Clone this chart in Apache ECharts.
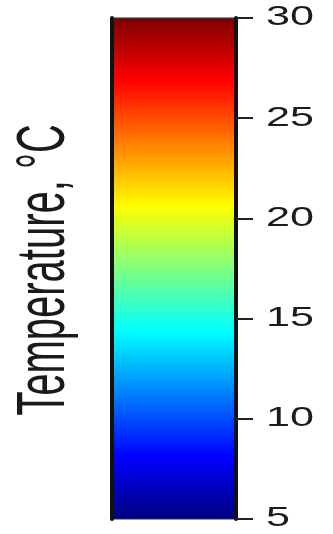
<!DOCTYPE html>
<html><head><meta charset="utf-8">
<script src="https://cdn.jsdelivr.net/npm/echarts@6/dist/echarts.min.js"></script>
<style>html,body{margin:0;padding:0;background:#fff}#c{width:333px;height:534px}</style>
</head><body><div id="c"></div>
<script>
// ---- data ----
const barCategories = ['colorbar'];
const rangeMin = 5;
const rangeMax = 30;
const tickStep = 5;
const tickValues = [5, 10, 15, 20, 25, 30];
const tickLabels = ['5', '10', '15', '20', '25', '30'];
const colorStopOffsets = [0, 0.125, 0.375, 0.625, 0.875, 1];
const colorStopColors = ['#00007f', '#0000ff', '#00ffff', '#ffff00', '#ff0000', '#7f0000'];
const axisTitle = 'Temperature, °C';

const chart = echarts.init(document.getElementById('c'), null, {renderer: 'canvas'});
const stops = colorStopOffsets.map((o, i) => ({offset: o, color: colorStopColors[i]}));

const axisCommon = {
  type: 'value', min: rangeMin, max: rangeMax, interval: tickStep, z: 5,
  axisLabel: {show: false}, splitLine: {show: false}
};

chart.setOption({
  backgroundColor: '#ffffff',
  animation: false,
  grid: {left: 112, top: 18, width: 124, height: 501, show: true, z: 4,
         borderColor: '#333', borderWidth: 1, backgroundColor: 'transparent'},
  xAxis: {type: 'category', data: barCategories, show: false},
  yAxis: [
    Object.assign({}, axisCommon, {position: 'right',
      axisLine: {show: true, lineStyle: {color: '#111', width: 4}},
      axisTick: {show: true, inside: false, length: 17, lineStyle: {color: '#222', width: 2}}}),
    Object.assign({}, axisCommon, {position: 'left',
      axisLine: {show: true, lineStyle: {color: '#111', width: 4}},
      axisTick: {show: false}})
  ],
  series: [{
    type: 'bar', yAxisIndex: 0, barWidth: '100%', clip: true,
    data: barCategories.map(() => rangeMax),
    itemStyle: {color: new echarts.graphic.LinearGradient(0, 1, 0, 0, stops)},
    z: 1
  }]
});

const graphics = [{
  type: 'text', x: 45, y: 270, rotation: Math.PI / 2, scaleY: 1.72,
  style: {text: axisTitle, font: '40px "Liberation Sans", Arial, sans-serif',
          fill: '#1a1a1a', align: 'center', verticalAlign: 'middle'}
}];
tickValues.forEach((v, i) => {
  const py = chart.convertToPixel({yAxisIndex: 0}, v);
  graphics.push({
    type: 'text', x: 266, y: py, scaleX: 1.6,
    style: {text: tickLabels[i], font: '27px "Liberation Sans", Arial, sans-serif',
            fill: '#1a1a1a', align: 'left', verticalAlign: 'middle'}
  });
});
chart.setOption({graphic: graphics});
</script>
</body></html>
